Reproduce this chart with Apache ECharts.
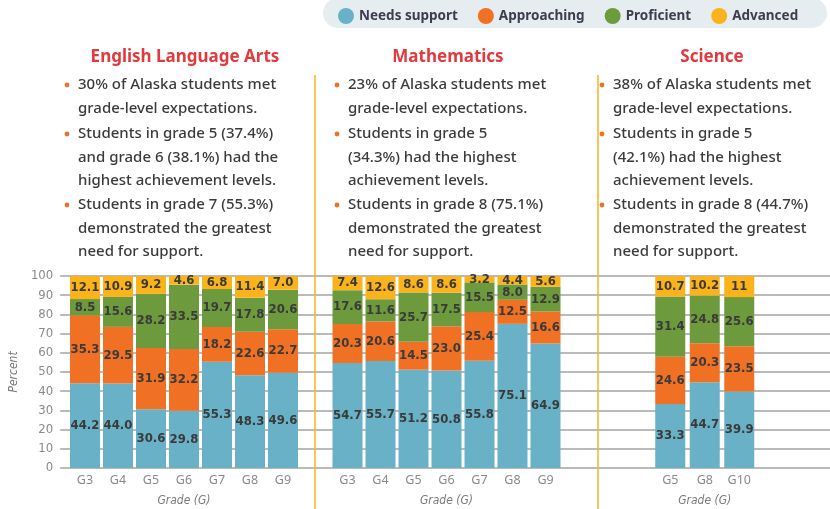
<!DOCTYPE html>
<html>
<head>
<meta charset="utf-8">
<script src="https://cdn.jsdelivr.net/npm/echarts@6/dist/echarts.min.js"></script>
<style>
  html, body { margin: 0; padding: 0; background: #fff; }
  #chart { width: 830px; height: 509px; }
</style>
</head>
<body>
<div id="chart"></div>
<script>
  // categories
  const elaGrades = ['G3', 'G4', 'G5', 'G6', 'G7', 'G8', 'G9'];
  const mathGrades = ['G3', 'G4', 'G5', 'G6', 'G7', 'G8', 'G9'];
  const sciGrades = ['G5', 'G8', 'G10'];
  const levels = ['Needs support', 'Approaching', 'Proficient', 'Advanced'];
  const yTicks = [0, 100, 10]; // min, max, step

  // percent per level, bottom to top
  const elaNeeds = [44.2, 44.0, 30.6, 29.8, 55.3, 48.3, 49.6];
  const elaApproaching = [35.3, 29.5, 31.9, 32.2, 18.2, 22.6, 22.7];
  const elaProficient = [8.5, 15.6, 28.2, 33.5, 19.7, 17.8, 20.6];
  const elaAdvanced = [12.1, 10.9, 9.2, 4.6, 6.8, 11.4, 7.0];

  const mathNeeds = [54.7, 55.7, 51.2, 50.8, 55.8, 75.1, 64.9];
  const mathApproaching = [20.3, 20.6, 14.5, 23.0, 25.4, 12.5, 16.6];
  const mathProficient = [17.6, 11.6, 25.7, 17.5, 15.5, 8.0, 12.9];
  const mathAdvanced = [7.4, 12.6, 8.6, 8.6, 3.2, 4.4, 5.6];

  const sciNeeds = [33.3, 44.7, 39.9];
  const sciApproaching = [24.6, 20.3, 23.5];
  const sciProficient = [31.4, 24.8, 25.6];
  const sciAdvanced = [10.7, 10.2, 11];

  // panel texts
  const panelTitles = ['English Language Arts', 'Mathematics', 'Science'];
  const panelBullets = [
    ['30% of Alaska students met\ngrade-level expectations.',
     'Students in grade 5 (37.4%)\nand grade 6 (38.1%) had the\nhighest achievement levels.',
     'Students in grade 7 (55.3%)\ndemonstrated the greatest\nneed for support.'],
    ['23% of Alaska students met\ngrade-level expectations.',
     'Students in grade 5\n(34.3%) had the highest\nachievement levels.',
     'Students in grade 8 (75.1%)\ndemonstrated the greatest\nneed for support.'],
    ['38% of Alaska students met\ngrade-level expectations.',
     'Students in grade 5\n(42.1%) had the highest\nachievement levels.',
     'Students in grade 8 (44.7%)\ndemonstrated the greatest\nneed for support.']
  ];

  const colors = ['#68b1c7', '#f07024', '#6d9a3c', '#fbb31c'];
  const font = '"Noto Sans", Lato, sans-serif';
  const narrow = '"Liberation Sans Narrow", "DejaVu Sans Condensed", sans-serif';

  const chart = echarts.init(document.getElementById('chart'));

  const gridTop = 276, gridBottom = 41;
  const grids = [
    { left: 60, right: 0, top: gridTop, bottom: gridBottom },       // background lines
    { left: 68.5, width: 231, top: gridTop, bottom: gridBottom },   // ELA
    { left: 331, width: 231, top: gridTop, bottom: gridBottom },    // Math
    { left: 653, width: 103.5, top: gridTop, bottom: gridBottom }   // Science
  ];

  const catAxis = (data, idx) => ({
    type: 'category', gridIndex: idx, data: data,
    axisLine: { show: false }, axisTick: { show: false },
    axisLabel: { color: '#8a8a8a', fontFamily: font, fontSize: 12.5, margin: 6 },
    name: 'Grade (G)', nameLocation: 'middle', nameGap: 27,
    nameTextStyle: { color: '#7a7a7a', fontFamily: narrow, fontStyle: 'italic', fontSize: 12 }
  });
  const hiddenY = idx => ({
    type: 'value', gridIndex: idx, min: yTicks[0], max: yTicks[1], interval: yTicks[2], show: false
  });

  const fmt = p => p.value.toFixed(1);
  const sciFmt = p => String(p.value);
  const panels = [
    [[elaNeeds, elaApproaching, elaProficient, elaAdvanced], 1, 'ela', fmt],
    [[mathNeeds, mathApproaching, mathProficient, mathAdvanced], 2, 'math', fmt],
    [[sciNeeds, sciApproaching, sciProficient, sciAdvanced], 3, 'sci', sciFmt]
  ];
  const series = [];
  panels.forEach(([sets, idx, stack, f]) => {
    sets.forEach((vals, i) => {
      series.push({
        name: levels[i], type: 'bar', stack: stack,
        xAxisIndex: idx, yAxisIndex: idx, data: vals,
        barWidth: 30, itemStyle: { color: colors[i] },
        label: { show: true, position: 'inside', formatter: f, color: '#3a3a3a',
                 fontFamily: narrow, fontWeight: 'bold', fontSize: 13 }
      });
    });
  });

  // text blocks above the charts
  const graphics = [
    { type: 'rect', left: 323, top: -2, shape: { width: 504, height: 30, r: 15 },
      style: { fill: '#e5edf0' }, z: -1 },
    { type: 'line', shape: { x1: 315, y1: 75, x2: 315, y2: 509 }, style: { stroke: '#fbb31c', lineWidth: 1.5 }, z: 100 },
    { type: 'line', shape: { x1: 598, y1: 75, x2: 598, y2: 509 }, style: { stroke: '#fbb31c', lineWidth: 1.5 }, z: 100 }
  ];
  const titleX = [185, 448, 712];
  const textX = [78, 348, 613];
  const bulletTops = [73, 122, 193];
  panelTitles.forEach((t, k) => {
    graphics.push({ type: 'text', x: titleX[k], y: 57,
      style: { text: t, fill: '#e2393d', font: 'bold 17px ' + font, textAlign: 'center', textVerticalAlign: 'middle' } });
    panelBullets[k].forEach((b, j) => {
      graphics.push({ type: 'circle', shape: { cx: textX[k] - 11, cy: bulletTops[j] + 12, r: 2.4 },
        style: { fill: '#f07024' } });
      graphics.push({ type: 'text', x: textX[k], y: bulletTops[j],
        style: { text: b, fill: '#3b3b3b', font: '500 15px ' + font, lineHeight: 23.5 } });
    });
  });

  chart.setOption({
    animation: false,
    legend: {
      data: levels, left: 333, top: 3, icon: 'circle', itemWidth: 16, itemHeight: 16, itemGap: 20,
      textStyle: { color: '#3d3d4d', fontFamily: font, fontWeight: 'bold', fontSize: 13.5 }
    },
    grid: grids,
    xAxis: [
      { type: 'value', gridIndex: 0, show: false },
      catAxis(elaGrades, 1), catAxis(mathGrades, 2), catAxis(sciGrades, 3)
    ],
    yAxis: [
      { type: 'value', gridIndex: 0, min: yTicks[0], max: yTicks[1], interval: yTicks[2],
        axisLine: { show: false }, axisTick: { show: false },
        axisLabel: { color: '#8a8a8a', fontFamily: narrow, fontSize: 13, margin: 7 },
        splitLine: { lineStyle: { color: '#a3a3a3', width: 1.5 } },
        name: 'Percent', nameLocation: 'middle', nameGap: 31,
        nameTextStyle: { color: '#7a7a7a', fontFamily: narrow, fontStyle: 'italic', fontSize: 12 } },
      hiddenY(1), hiddenY(2), hiddenY(3)
    ],
    series: series,
    graphic: graphics
  });
</script>
</body>
</html>
